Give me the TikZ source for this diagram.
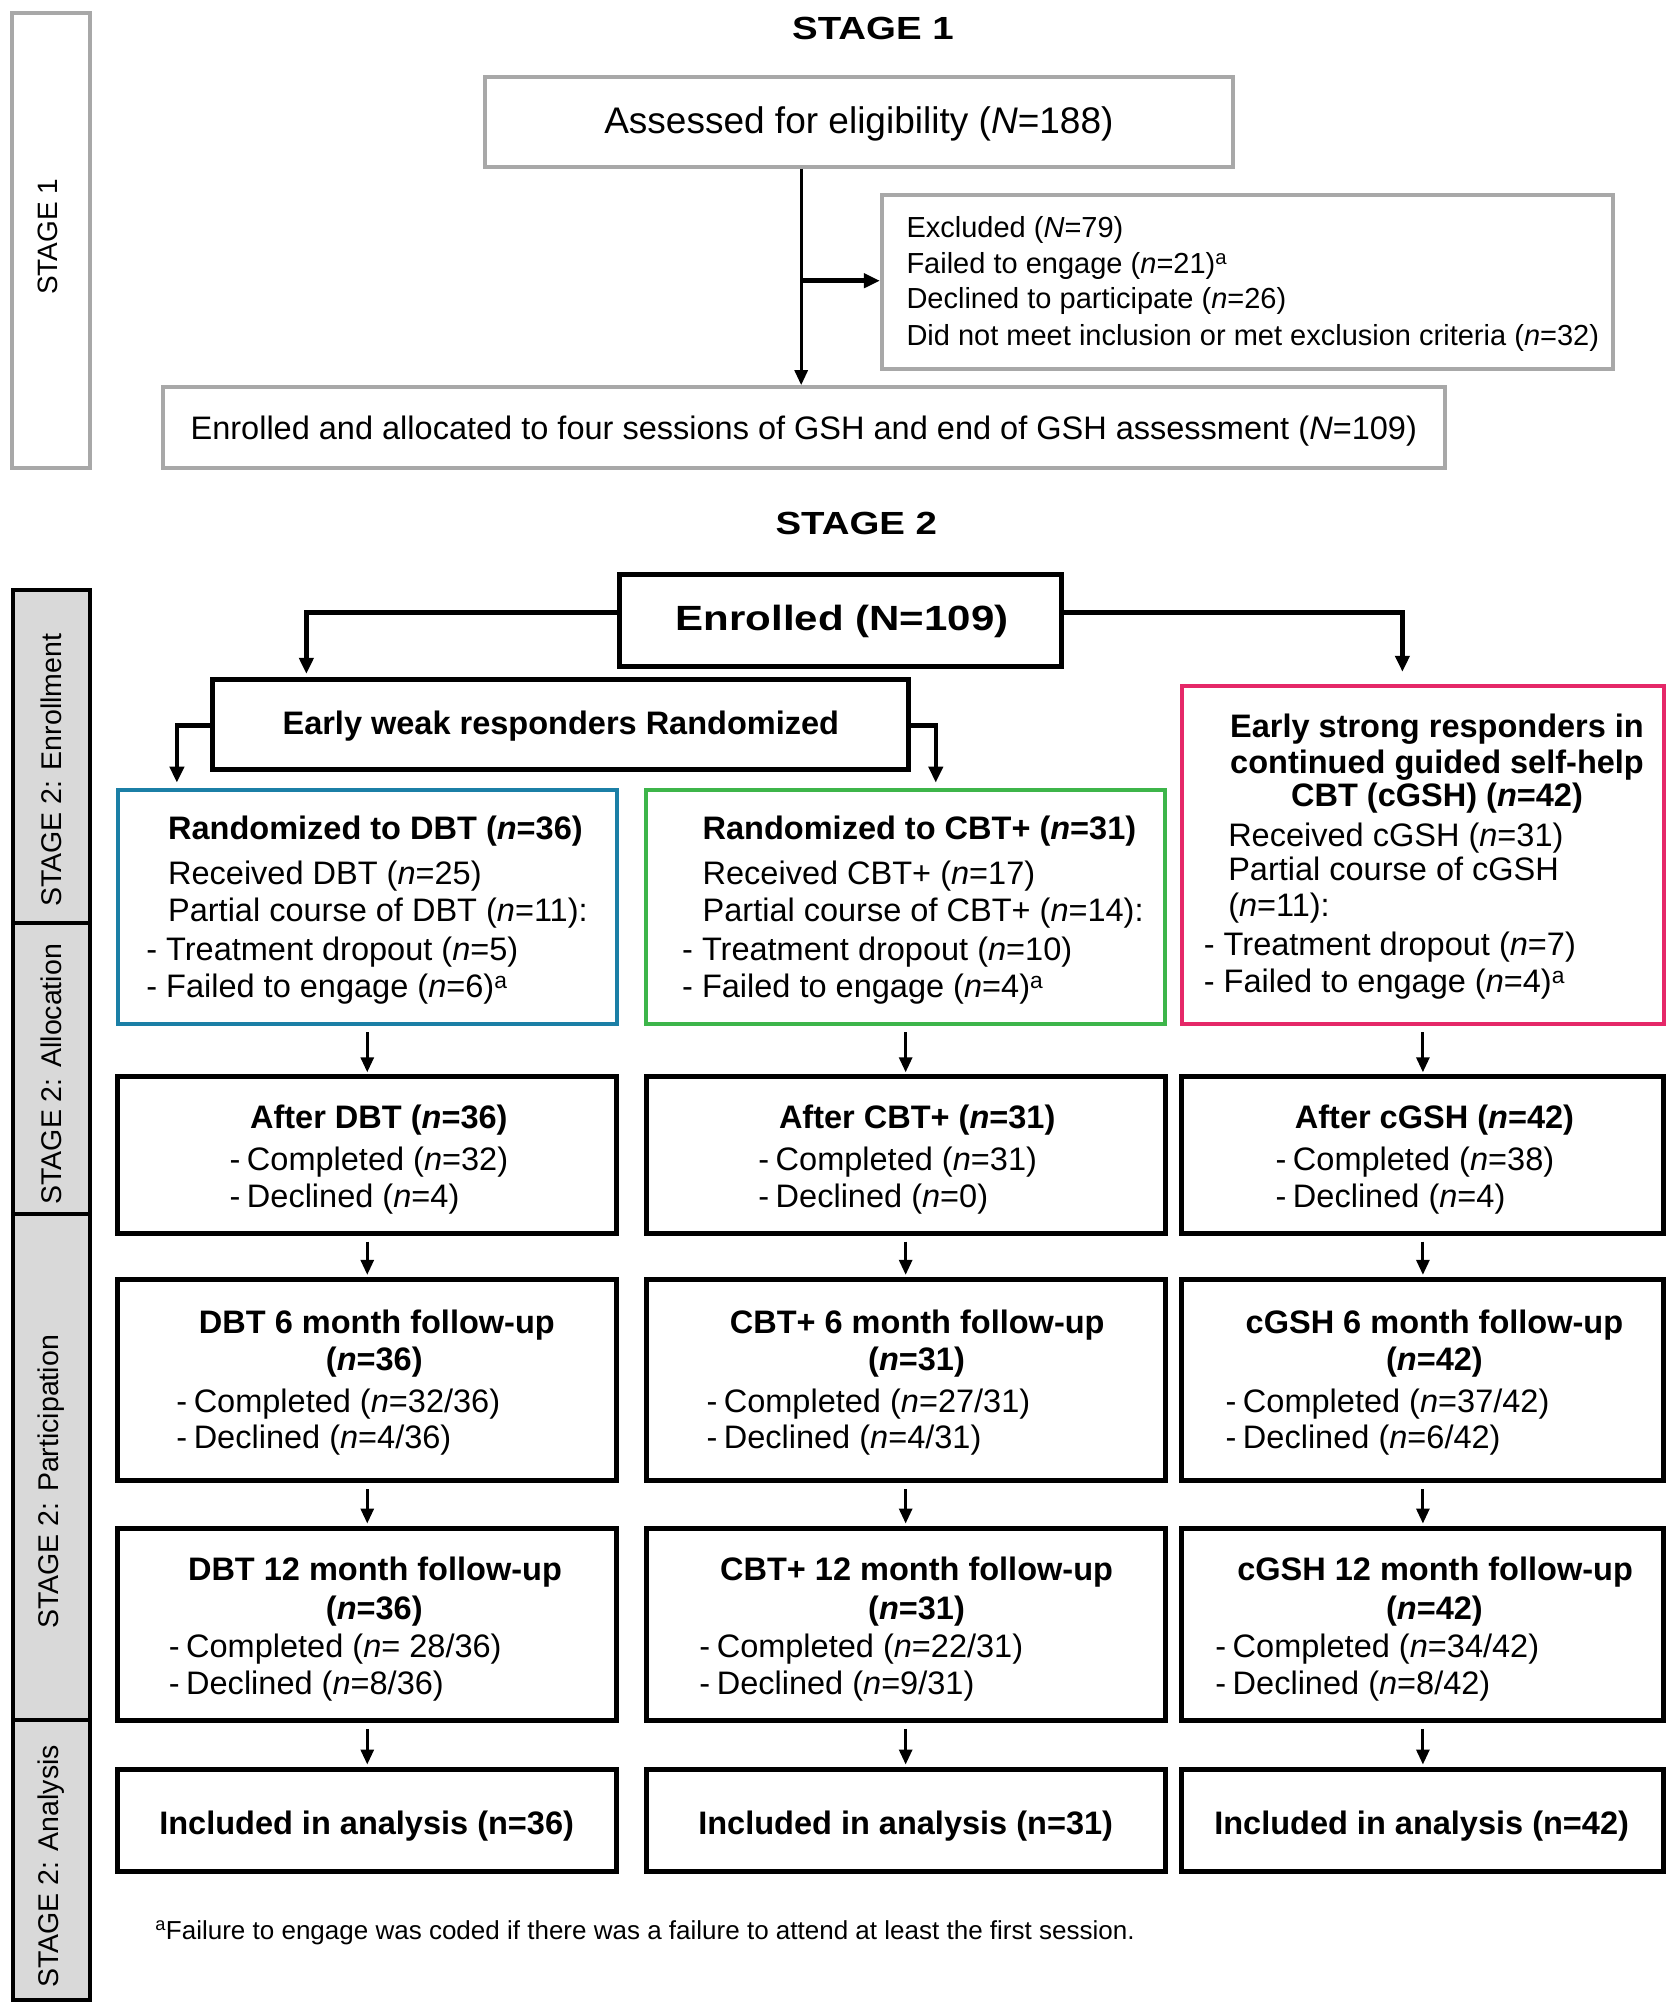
\documentclass[tikz,border=0pt]{standalone}
\usepackage{fontspec}
\setmainfont{Liberation Sans}
\newfontfamily\widefont[FakeStretch=1.2]{Liberation Sans}
\usetikzlibrary{arrows.meta,fit}
\definecolor{cblue}{RGB}{27,127,166}
\definecolor{cgreen}{RGB}{61,181,74}
\definecolor{cpink}{RGB}{229,40,104}
\definecolor{lgray}{RGB}{168,168,168}
\definecolor{sbfill}{RGB}{217,217,217}
\newcommand\nn{\textit{n}}
\newcommand\NN{\textit{N}}
\newcommand\supa{\textsuperscript{a}}
\newcommand\myL[4]{\node[txt,anchor=base west] (#1) at (#2,#3) {#4};}
\newcommand\myC[4]{\node[txt,anchor=base] (#1) at (#2,#3) {#4};}
\begin{document}
\begin{tikzpicture}[x=1.2814pt,y=-1.2814pt,
  txt/.style={inner sep=0pt,font=\fontsize{32.5}{37}\selectfont},
  gbox/.style={draw=lgray,line width=4pt,inner sep=0pt,fill=white},
  bbox/.style={draw=black,line width=5pt,inner sep=0pt,fill=white},
  cbox/.style={draw=#1,line width=4pt,inner sep=0pt,fill=white},
  sbox/.style={draw=black,line width=4pt,inner sep=0pt,fill=sbfill},
  sbtxt/.style={rotate=90,inner sep=0pt,font=\fontsize{28.5}{30}\selectfont},
  ttl/.style={inner sep=0pt,anchor=base,font=\widefont\bfseries\fontsize{32}{34}\selectfont},
  arr/.style={line width=3pt,-{Triangle[width=13pt,length=15pt]}},
  barr/.style={line width=4.5pt,line join=miter,-{Triangle[width=14pt,length=16pt]}}
]
\useasboundingbox (0,0) rectangle (1304,1568);

% ---------- side bars ----------
\node[gbox,fit={(9,10) (70,365)}] (sb1) {};
\node[sbtxt,font=\fontsize{28}{30}\selectfont] (sb1t) at (37.7,184.7) {STAGE 1};
\node[sbox,fit={(10,460) (70,720)}] (sb2) {};
\node[sbox,fit={(10,720) (70,947)}] (sb3) {};
\node[sbox,fit={(10,947) (70,1342)}] (sb4) {};
\node[sbox,fit={(10,1342) (70,1560)}] (sb5) {};
\node[sbtxt] (sb2t) at (40,601) {STAGE 2: Enrollment};
\node[sbtxt] (sb3t) at (40,838) {STAGE 2: Allocation};
\node[sbtxt] (sb4t) at (40,1156) {STAGE 2: Participation};
\node[sbtxt] (sb5t) at (40,1456) {STAGE 2: Analysis};

% ---------- stage 1 ----------
\node[ttl] (title1) at (681,31) {STAGE 1};
\node[gbox,fit={(378,60) (962,130)}] (assess) {};
\node[txt,anchor=base,font=\fontsize{37}{40}\selectfont] (assesst) at (670,104) {Assessed for eligibility (\NN=188)};
\node[gbox,fit={(688,152) (1258,288)}] (excl) {};
\begin{scope}[txt/.append style={font=\fontsize{29}{32}\selectfont}]
\myL{ex1}{707}{185}{Excluded (\NN=79)}
\myL{ex2}{707}{213.6}{Failed to engage (\nn=21)\supa}
\myL{ex3}{707}{241}{Declined to participate (\nn=26)}
\myL{ex4}{707}{269.5}{Did not meet inclusion or met exclusion criteria (\nn=32)}
\end{scope}
\node[gbox,fit={(127,302) (1127,365)}] (enr1) {};
\myC{enr1t}{627}{343}{Enrolled and allocated to four sessions of GSH and end of GSH assessment (\NN=109)}
\coordinate (j1) at (625,219);
\draw[arr] (assess.south -| j1) -- (enr1.north -| j1);
\draw[barr] (j1) -- (excl.west |- j1);

% ---------- stage 2 ----------
\node[ttl] (title2) at (668,417) {STAGE 2};
\node[bbox,fit={(483,448) (828,520)}] (enr2) {};
\node[inner sep=0pt,anchor=base,font=\widefont\bfseries\fontsize{35}{38}\selectfont] (enr2t) at (657,492) {Enrolled (N=109)};
\node[bbox,fit={(166,530) (709,600)}] (weak) {};
\myC{weakt}{437.5}{573}{\bfseries Early weak responders Randomized}

\node[cbox=cblue,fit={(92,616) (481,799)}] (dbt) {};
\node[cbox=cgreen,fit={(504,616) (909,799)}] (cbt) {};
\node[cbox=cpink,fit={(922,535) (1298,799)}] (cgsh) {};

\coordinate (wl) at (239,478);
\coordinate (sr) at (1094,478);
\coordinate (dl) at (138,566);
\coordinate (cr) at (730,566);
\draw[barr,shorten >=3pt] (enr2.west |- wl) -- (wl) -- (weak.north -| wl);
\draw[barr,shorten >=12pt] (enr2.east |- sr) -- (sr) -- (cgsh.north -| sr);
\draw[barr,shorten >=5pt] (weak.west |- dl) -- (dl) -- (dbt.north -| dl);
\draw[barr,shorten >=5pt] (weak.east |- cr) -- (cr) -- (cbt.north -| cr);

% DBT box
\myL{d1}{131}{655}{\bfseries Randomized to DBT (\nn=36)}
\myL{d2}{131}{690}{Received DBT (\nn=25)}
\myL{d3}{131}{719}{Partial course of DBT (\nn=11):}
\myL{d4}{114}{749}{- Treatment dropout (\nn=5)}
\myL{d5}{114}{778}{- Failed to engage (\nn=6)\supa}
% CBT+ box
\myL{c1}{548}{655}{\bfseries Randomized to CBT+ (\nn=31)}
\myL{c2}{548}{690}{Received CBT+ (\nn=17)}
\myL{c3}{548}{719}{Partial course of CBT+ (\nn=14):}
\myL{c4}{532}{749}{- Treatment dropout (\nn=10)}
\myL{c5}{532}{778}{- Failed to engage (\nn=4)\supa}
% cGSH box
\myC{g1}{1121}{575}{\bfseries Early strong responders in}
\myC{g2}{1121}{603.5}{\bfseries continued guided self-help}
\myC{g3}{1121}{629.5}{\bfseries CBT (cGSH) (\nn=42)}
\myL{g4}{958}{660.5}{Received cGSH (\nn=31)}
\myL{g5}{958}{686.5}{Partial course of cGSH}
\myL{g6}{958}{715}{(\nn=11):}
\myL{g7}{939}{745}{- Treatment dropout (\nn=7)}
\myL{g8}{939}{774}{- Failed to engage (\nn=4)\supa}

% row 2
\node[bbox,fit={(92,840) (481,962)}] (a1) {};
\node[bbox,fit={(504,840) (909,962)}] (a2) {};
\node[bbox,fit={(922,840) (1298,962)}] (a3) {};
\myC{a1h}{295.5}{880.5}{\bfseries After DBT (\nn=36)}
\myL{a1a}{179}{913}{-\hspace{0.2em}Completed (\nn=32)}
\myL{a1b}{179}{941.6}{-\hspace{0.2em}Declined (\nn=4)}
\myC{a2h}{715.5}{880.5}{\bfseries After CBT+ (\nn=31)}
\myL{a2a}{591.5}{913}{-\hspace{0.2em}Completed (\nn=31)}
\myL{a2b}{591.5}{941.6}{-\hspace{0.2em}Declined (\nn=0)}
\myC{a3h}{1119}{880.5}{\bfseries After cGSH (\nn=42)}
\myL{a3a}{995}{913}{-\hspace{0.2em}Completed (\nn=38)}
\myL{a3b}{995}{941.6}{-\hspace{0.2em}Declined (\nn=4)}

% row 3
\node[bbox,fit={(92,998) (481,1155)}] (f1) {};
\node[bbox,fit={(504,998) (909,1155)}] (f2) {};
\node[bbox,fit={(922,998) (1298,1155)}] (f3) {};
\myC{f1h}{294}{1040.5}{\bfseries DBT 6 month follow-up}
\myC{f1n}{292}{1069}{\bfseries (\nn=36)}
\myL{f1a}{137.5}{1101.5}{-\hspace{0.2em}Completed (\nn=32/36)}
\myL{f1b}{137.5}{1130}{-\hspace{0.2em}Declined (\nn=4/36)}
\myC{f2h}{715.5}{1040.5}{\bfseries CBT+ 6 month follow-up}
\myC{f2n}{715}{1069}{\bfseries (\nn=31)}
\myL{f2a}{551}{1101.5}{-\hspace{0.2em}Completed (\nn=27/31)}
\myL{f2b}{551}{1130}{-\hspace{0.2em}Declined (\nn=4/31)}
\myC{f3h}{1119}{1040.5}{\bfseries cGSH 6 month follow-up}
\myC{f3n}{1119}{1069}{\bfseries (\nn=42)}
\myL{f3a}{956}{1101.5}{-\hspace{0.2em}Completed (\nn=37/42)}
\myL{f3b}{956}{1130}{-\hspace{0.2em}Declined (\nn=6/42)}

% row 4
\node[bbox,fit={(92,1192) (481,1342)}] (t1) {};
\node[bbox,fit={(504,1192) (909,1342)}] (t2) {};
\node[bbox,fit={(922,1192) (1298,1342)}] (t3) {};
\myC{t1h}{292.5}{1232.8}{\bfseries DBT 12 month follow-up}
\myC{t1n}{292}{1263}{\bfseries (\nn=36)}
\myL{t1a}{131.6}{1293}{-\hspace{0.2em}Completed (\nn= 28/36)}
\myL{t1b}{131.6}{1321.6}{-\hspace{0.2em}Declined (\nn=8/36)}
\myC{t2h}{715}{1232.8}{\bfseries CBT+ 12 month follow-up}
\myC{t2n}{715}{1263}{\bfseries (\nn=31)}
\myL{t2a}{545.5}{1293}{-\hspace{0.2em}Completed (\nn=22/31)}
\myL{t2b}{545.5}{1321.6}{-\hspace{0.2em}Declined (\nn=9/31)}
\myC{t3h}{1119.5}{1232.8}{\bfseries cGSH 12 month follow-up}
\myC{t3n}{1119}{1263}{\bfseries (\nn=42)}
\myL{t3a}{948}{1293}{-\hspace{0.2em}Completed (\nn=34/42)}
\myL{t3b}{948}{1321.6}{-\hspace{0.2em}Declined (\nn=8/42)}

% row 5
\node[bbox,fit={(92,1380) (481,1460)}] (i1) {};
\node[bbox,fit={(504,1380) (909,1460)}] (i2) {};
\node[bbox,fit={(922,1380) (1298,1460)}] (i3) {};
\myC{i1t}{286}{1430.7}{\bfseries Included in analysis (n=36)}
\myC{i2t}{706.5}{1430.7}{\bfseries Included in analysis (n=31)}
\myC{i3t}{1109}{1430.7}{\bfseries Included in analysis (n=42)}

% column arrows
\foreach \u/\v in {dbt/a1,cbt/a2,cgsh/a3,a1/f1,a2/f2,a3/f3,f1/t1,f2/t2,f3/t3,t1/i1,t2/i2,t3/i3}{
  \draw[arr,shorten <=6pt,shorten >=2pt] (\u.south) -- (\u.south |- \v.north);
}

% footnote
\node[inner sep=0pt,anchor=base west,font=\fontsize{26}{28}\selectfont] (fn) at (121,1513) {\supa Failure to engage was coded if there was a failure to attend at least the first session.};
\end{tikzpicture}
\end{document}
